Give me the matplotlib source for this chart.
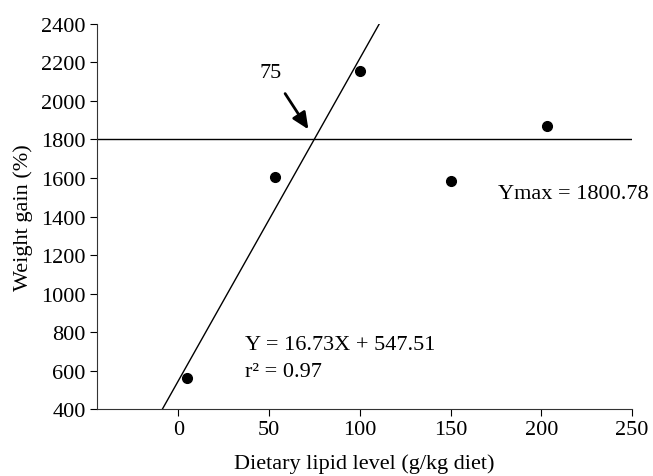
import numpy as np
import matplotlib.pyplot as plt

plt.rcParams['font.family'] = ['Liberation Serif', 'DejaVu Serif']

# data
lipid = [5, 53, 100, 150, 203]
gain = [563, 1605, 2155, 1583, 1870]
slope = 16.73
intercept = 547.51
ymax = 1800.78
x_ticks = [0, 50, 100, 150, 200, 250]
y_ticks = [400, 600, 800, 1000, 1200, 1400, 1600, 1800, 2000, 2200, 2400]

fig, ax = plt.subplots(figsize=(6.53, 4.77), dpi=100)
fig.subplots_adjust(left=0.148, right=0.968, bottom=0.14, top=0.948)

# data points
ax.plot(lipid, gain, 'o', color='black', markersize=7)

# regression line, clipped to the y range
x_line = np.array([(400 - intercept) / slope, (2400 - intercept) / slope])
ax.plot(x_line, slope * x_line + intercept, color='black', lw=1)

# plateau
ax.plot([-45, 250], [ymax, ymax], color='black', lw=1)

ax.annotate('', xy=(72.5, 1840), xytext=(58, 2050),
            arrowprops=dict(arrowstyle='-|>,head_length=1.0,head_width=0.45',
                            color='black', lw=2))
ax.text(51, 2145, '75', fontsize=16, ha='center', va='center')
ax.text(176, 1520, 'Ymax = 1800.78', fontsize=16, ha='left', va='center')
ax.text(37, 735, 'Y = 16.73X + 547.51', fontsize=16, ha='left', va='center')
ax.text(37, 595, 'r² = 0.97', fontsize=16, ha='left', va='center')

ax.set_xlim(-45, 250)
ax.set_ylim(400, 2400)
ax.set_xticks(x_ticks)
ax.set_yticks(y_ticks)
ax.tick_params(labelsize=16, direction='out', length=5, pad=3)
for s in ('left', 'bottom'):
    ax.spines[s].set_color('#333333')
ax.spines['top'].set_visible(False)
ax.spines['right'].set_visible(False)
ax.set_xlabel('Dietary lipid level (g/kg diet)', fontsize=16, labelpad=10)
ax.set_ylabel('Weight gain (%)', fontsize=16, labelpad=6)

fig.savefig('out.png', dpi=100)
